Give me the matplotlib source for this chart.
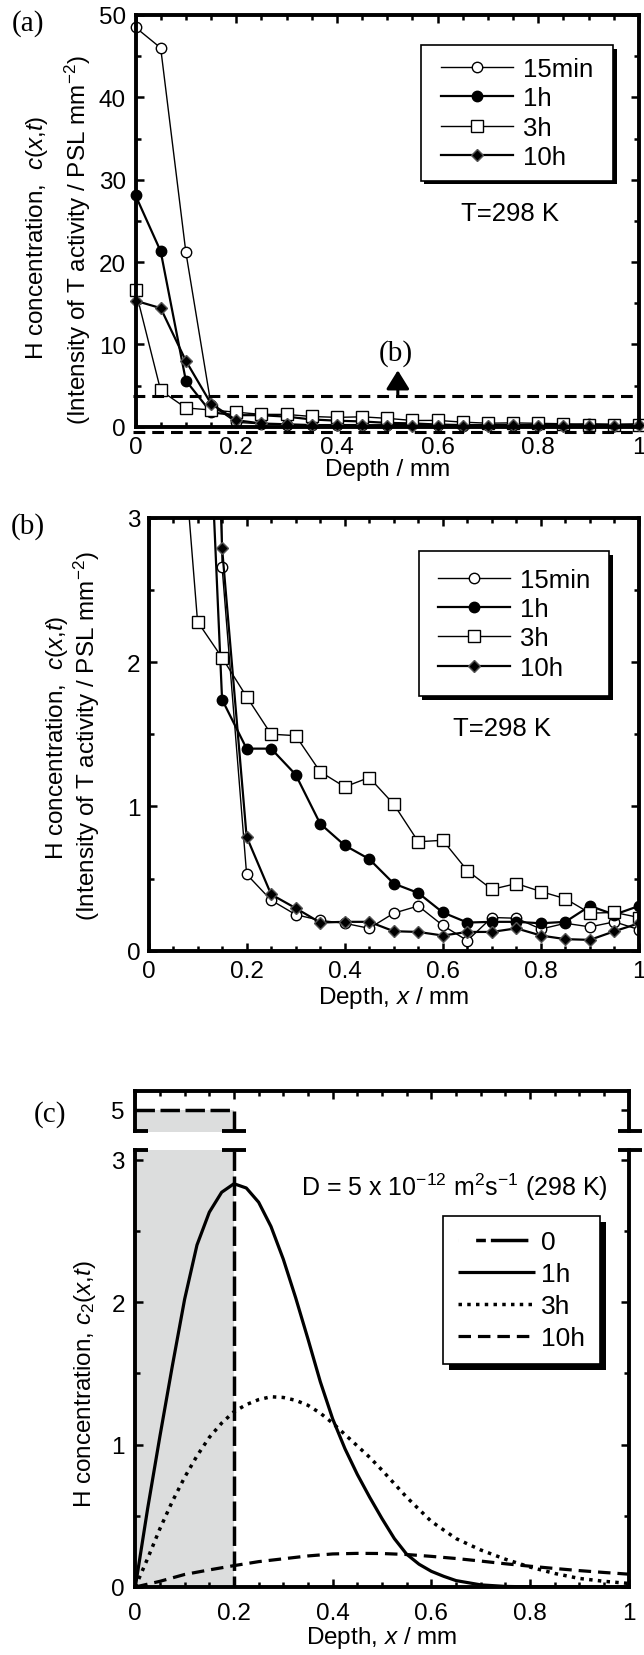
import matplotlib
matplotlib.use('Agg')
import matplotlib.pyplot as plt
from matplotlib.patches import Rectangle
from matplotlib.lines import Line2D
from matplotlib.ticker import MultipleLocator
import matplotlib.transforms as mtransforms

plt.rcParams['font.family'] = ['Liberation Sans', 'DejaVu Sans']
plt.rcParams['mathtext.fontset'] = 'custom'
plt.rcParams['mathtext.rm'] = 'Liberation Sans'
plt.rcParams['mathtext.it'] = 'Liberation Sans:italic'
plt.rcParams['mathtext.bf'] = 'Liberation Sans:bold'
plt.rcParams['lines.scale_dashes'] = False

# ---------------- data: measured profiles (panels a, b) ----------------
depth = [0.00, 0.05, 0.10, 0.15, 0.20, 0.25, 0.30, 0.35, 0.40, 0.45, 0.50,
         0.55, 0.60, 0.65, 0.70, 0.75, 0.80, 0.85, 0.90, 0.95, 1.00]
c_15min = [48.5, 46.0, 21.2, 2.66, 0.53, 0.35, 0.25, 0.21, 0.19, 0.155, 0.26,
           0.31, 0.175, 0.07, 0.23, 0.225, 0.15, 0.19, 0.165, 0.20, 0.146]
c_1h = [28.1, 21.3, 5.6, 1.74, 1.40, 1.40, 1.22, 0.88, 0.73, 0.635, 0.465,
        0.40, 0.265, 0.195, 0.20, 0.20, 0.19, 0.20, 0.31, 0.25, 0.31]
c_3h = [16.6, 4.4, 2.28, 2.03, 1.76, 1.50, 1.49, 1.24, 1.135, 1.20, 1.015,
        0.755, 0.765, 0.555, 0.425, 0.465, 0.41, 0.36, 0.26, 0.265, 0.23]
c_10h = [15.3, 14.4, 8.0, 2.79, 0.79, 0.39, 0.295, 0.195, 0.20, 0.20, 0.135,
         0.13, 0.105, 0.13, 0.13, 0.155, 0.105, 0.08, 0.075, 0.135, 0.19]
meas_labels = ['15min', '1h', '3h', '10h']
zoom_region_y = [-0.6, 3.69]      # dashed window of panel (b) drawn in (a)

# ---------------- data: calculated profiles (panel c) ----------------
x_0 = [0.0, 0.2, 0.2]
c2_0 = [5.0, 5.0, 0.0]
x_1h = [0, 0.025, 0.05, 0.075, 0.1, 0.125, 0.15, 0.175, 0.2, 0.225, 0.25,
        0.275, 0.3, 0.325, 0.35, 0.375, 0.4, 0.425, 0.45, 0.475, 0.5, 0.525,
        0.55, 0.575, 0.6, 0.625, 0.65, 0.7, 0.75, 0.8, 0.9, 1.0]
c2_1h = [0, 0.55, 1.06, 1.55, 2.02, 2.40, 2.63, 2.77, 2.83, 2.80, 2.70,
         2.53, 2.30, 2.03, 1.74, 1.44, 1.18, 0.97, 0.79, 0.63, 0.48, 0.34,
         0.23, 0.16, 0.11, 0.075, 0.045, 0.015, 0.004, 0.001, 0, 0]
x_3h = [0, 0.025, 0.05, 0.075, 0.1, 0.125, 0.15, 0.175, 0.2, 0.225, 0.25,
        0.275, 0.3, 0.325, 0.35, 0.375, 0.4, 0.425, 0.45, 0.475, 0.5, 0.55,
        0.6, 0.65, 0.7, 0.75, 0.8, 0.85, 0.9, 0.95, 1.0]
c2_3h = [0, 0.20, 0.41, 0.60, 0.77, 0.92, 1.05, 1.15, 1.23, 1.28, 1.315,
         1.335, 1.33, 1.31, 1.275, 1.22, 1.15, 1.07, 0.99, 0.91, 0.82, 0.63,
         0.46, 0.34, 0.26, 0.195, 0.14, 0.095, 0.06, 0.04, 0.025]
x_10h = [0, 0.05, 0.1, 0.15, 0.2, 0.25, 0.3, 0.35, 0.4, 0.45, 0.5, 0.55,
         0.6, 0.65, 0.7, 0.75, 0.8, 0.85, 0.9, 0.95, 1.0]
c2_10h = [0, 0.04, 0.088, 0.12, 0.15, 0.178, 0.198, 0.218, 0.232, 0.236,
          0.235, 0.228, 0.215, 0.20, 0.182, 0.163, 0.146, 0.13, 0.115, 0.102,
          0.09]
calc_labels = ['0', '1h', '3h', '10h']

# tick labels
x_ticks = [0, 0.2, 0.4, 0.6, 0.8, 1.0]
x_ticklabels = ['0', '0.2', '0.4', '0.6', '0.8', '1']
ya_ticks = [0, 10, 20, 30, 40, 50]
ya_ticklabels = ['0', '10', '20', '30', '40', '50']
yb_ticks = [0, 1, 2, 3]
yb_ticklabels = ['0', '1', '2', '3']
yc_ticks = [0, 1, 2, 3]
yc_ticklabels = ['0', '1', '2', '3']
yc_top_ticks = [5]
yc_top_ticklabels = ['5']

# ---------------- figure ----------------
W, H = 644, 1656
fig = plt.figure(figsize=(W / 100, H / 100), dpi=100)


def rect(l, r, t, b):
    return [l / W, 1 - b / H, (r - l) / W, (b - t) / H]


SPW = 2.8
FS = 17.5
LEGFS = 18.5


def style(ax, ypad=6.5, xpad=7, top=True, bottom=True):
    for s in ax.spines.values():
        s.set_linewidth(SPW)
    ax.tick_params(which='both', direction='in', top=top, bottom=bottom,
                   right=True, left=True, width=1.8, labelsize=FS)
    ax.tick_params(which='major', length=6)
    ax.tick_params(which='minor', length=3.5)
    ax.tick_params(axis='x', pad=xpad)
    ax.tick_params(axis='y', pad=ypad)


def boxed_legend(ax, handles, labels, box, shadow_px, fs, hl, htp, ls):
    x0, y0, x1, y1 = box
    sh = mtransforms.offset_copy(ax.transAxes, fig=fig, x=shadow_px,
                                 y=-shadow_px, units='dots')
    ax.add_patch(Rectangle((x0, y0), x1 - x0, y1 - y0, transform=sh,
                           facecolor='black', edgecolor='black', lw=0,
                           zorder=5, clip_on=False))
    ax.add_patch(Rectangle((x0, y0), x1 - x0, y1 - y0,
                           transform=ax.transAxes, facecolor='white',
                           edgecolor='black', lw=1.2, zorder=6,
                           clip_on=False))
    leg = ax.legend(handles, labels, loc='center',
                    bbox_to_anchor=((x0 + x1) / 2, (y0 + y1) / 2),
                    bbox_transform=ax.transAxes, frameon=False, fontsize=fs,
                    handlelength=hl, handletextpad=htp, labelspacing=ls,
                    borderpad=0, borderaxespad=0, numpoints=1)
    leg.set_zorder(7)
    return leg


meas_styles = [
    dict(marker='o', mfc='white', mec='black', ms=7.5, lw=1.0),
    dict(marker='o', mfc='black', mec='black', ms=7.5, lw=1.6),
    dict(marker='s', mfc='white', mec='black', ms=8.5, lw=1.0),
    dict(marker='D', mfc='black', mec='#555555', ms=6.5, lw=1.6),
]
meas_series = [c_15min, c_1h, c_3h, c_10h]


def draw_measured(ax, clip):
    hs = []
    for vals, st in zip(meas_series, meas_styles):
        h, = ax.plot(depth, vals, color='black', mew=1.0, clip_on=clip, **st)
        hs.append(h)
    return hs


# ---------------- panel (a) ----------------
axA = fig.add_axes(rect(135.5, 639, 16, 427.7))
hA = draw_measured(axA, clip=False)
axA.set_xlim(0, 1)
axA.set_ylim(0, 50)
style(axA, ypad=7)
axA.set_xticks(x_ticks)
axA.set_xticklabels(x_ticklabels)
axA.set_yticks(ya_ticks)
axA.set_yticklabels(ya_ticklabels)
axA.xaxis.set_minor_locator(MultipleLocator(0.05))
axA.yaxis.set_minor_locator(MultipleLocator(5))
axA.set_xlabel('Depth / mm', fontsize=FS, labelpad=0)
for yv in zoom_region_y:
    axA.plot([-0.004, 1.0], [yv, yv], color='black', lw=2.2,
             dashes=(8.5, 5), clip_on=False, zorder=3)
axA.annotate('', xy=(0.521, 6.85), xytext=(0.521, zoom_region_y[1]),
             arrowprops=dict(arrowstyle='-|>,head_length=0.42,head_width=0.26',
                             lw=2.2, color='black', shrinkA=0, shrinkB=0,
                             mutation_scale=27))
axA.text(0.517, 9.05, '(b)', fontsize=21, family='Liberation Serif',
         ha='center', va='center')
axA.text(0.743, 26.0, 'T=298 K', fontsize=LEGFS, ha='center', va='center')
boxed_legend(axA, hA, meas_labels, (0.567, 0.598, 0.949, 0.926), 3.5,
             LEGFS, 2.8, 0.4, 0.2)

# ---------------- panel (b) ----------------
axB = fig.add_axes(rect(148.5, 639, 518.7, 951.7))
hB = draw_measured(axB, clip=True)
axB.set_xlim(0, 1)
axB.set_ylim(0, 3)
style(axB, ypad=6)
axB.set_xticks(x_ticks)
axB.set_xticklabels(x_ticklabels)
axB.set_yticks(yb_ticks)
axB.set_yticklabels(yb_ticklabels)
axB.xaxis.set_minor_locator(MultipleLocator(0.05))
axB.yaxis.set_minor_locator(MultipleLocator(0.5))
axB.set_xlabel('Depth, $x$ / mm', fontsize=FS, labelpad=1)
axB.text(0.72, 1.54, 'T=298 K', fontsize=LEGFS, ha='center', va='center')
boxed_legend(axB, hB, meas_labels, (0.551, 0.588, 0.939, 0.922), 3.5,
             LEGFS, 2.8, 0.4, 0.21)

# ---------------- panel (c) ----------------
L_c, R_c = 135.3, 628.7
axCt = fig.add_axes(rect(L_c, R_c, 1092, 1132))
axCb = fig.add_axes(rect(L_c, R_c, 1151, 1588))
gray = '#dcdddd'
for ax in (axCt, axCb):
    ax.fill_between(x_0[:2], 0, c2_0[:2], color=gray, lw=0, zorder=0)

calc_styles = [
    dict(lw=2.5, dashes=(14, 4)),
    dict(lw=2.3, ls='-'),
    dict(lw=2.5, dashes=(2.5, 3.8)),
    dict(lw=2.3, dashes=(9, 5)),
]
calc_series = [(x_0, c2_0), (x_1h, c2_1h), (x_3h, c2_3h), (x_10h, c2_10h)]
hC = []
for (xs, ys), st in zip(calc_series, calc_styles):
    h, = axCb.plot(xs, ys, color='black', solid_capstyle='butt',
                   dash_capstyle='butt', zorder=3, **st)
    hC.append(h)
axCt.plot(x_0, c2_0, color='black', dash_capstyle='butt', zorder=3,
          **calc_styles[0])
# legend sample for the initial profile: short dash + long dash
h0_leg = Line2D([], [], color='black', lw=2.5, dash_capstyle='butt',
                linestyle=(0, (0.01, 12.7, 7, 3.6, 27, 100)))
hC_leg = [h0_leg] + hC[1:]

axCb.set_xlim(0, 1)
axCb.set_ylim(0, 3.0667)
axCt.set_xlim(0, 1)
axCt.set_ylim(4.849, 5.13)
style(axCb, ypad=7.5, xpad=10.5, top=False)
style(axCt, ypad=7.5, bottom=False)
axCb.spines['top'].set_visible(False)
axCt.spines['bottom'].set_visible(False)
axCb.set_xticks(x_ticks)
axCb.set_xticklabels(x_ticklabels)
axCb.set_yticks(yc_ticks)
axCb.set_yticklabels(yc_ticklabels)
axCb.xaxis.set_minor_locator(MultipleLocator(0.05))
axCb.yaxis.set_minor_locator(MultipleLocator(0.5))
axCt.set_xticks(x_ticks)
axCt.set_xticklabels([])
axCt.xaxis.set_minor_locator(MultipleLocator(0.05))
axCt.set_yticks(yc_top_ticks)
axCt.set_yticklabels(yc_top_ticklabels)
axCb.set_xlabel('Depth, $x$ / mm', fontsize=FS, labelpad=0)

# break marks
for ax, yy in ((axCt, 0.0), (axCb, 1.0)):
    tr = ax.get_xaxis_transform()
    for seg in ([-0.005, 0.025], [0.176, 0.224], [0.978, 1.026]):
        ax.plot(seg, [yy, yy], color='black', lw=SPW, transform=tr,
                clip_on=False, solid_capstyle='butt', zorder=4)

axCb.text(0.958, 2.81, 'D = 5 x 10$^{-12}$ m$^{2}$s$^{-1}$ (298 K)',
          fontsize=18, ha='right', va='center')
boxed_legend(axCb, hC_leg, calc_labels, (0.624, 0.510, 0.942, 0.848), 6,
             19, 2.9, 0.22, 0.3)

# ---------------- labels ----------------
def ftext(x, y, s, **kw):
    fig.text(x / W, 1 - y / H, s, **kw)


serif = dict(family='Liberation Serif', fontsize=21, ha='center', va='center')
ftext(28.3, 24, '(a)', **serif)
ftext(28.0, 527, '(b)', **serif)
ftext(50.0, 1115, '(c)', **serif)

lab = dict(fontsize=FS, rotation=90, ha='center', va='center')
ftext(37, 238, 'H concentration,  $c$($x$,$t$)', **lab)
ftext(78, 240, '(Intensity of T activity / PSL mm$^{-2}$)', **lab)
ftext(56.5, 738, 'H concentration,  $c$($x$,$t$)', **lab)
ftext(87, 736, '(Intensity of T activity / PSL mm$^{-2}$)', **lab)
ftext(85, 1384, 'H concentration, $c_{\\mathrm{2}}$($x$,$t$)', **lab)

fig.savefig('out.png', dpi=100)
